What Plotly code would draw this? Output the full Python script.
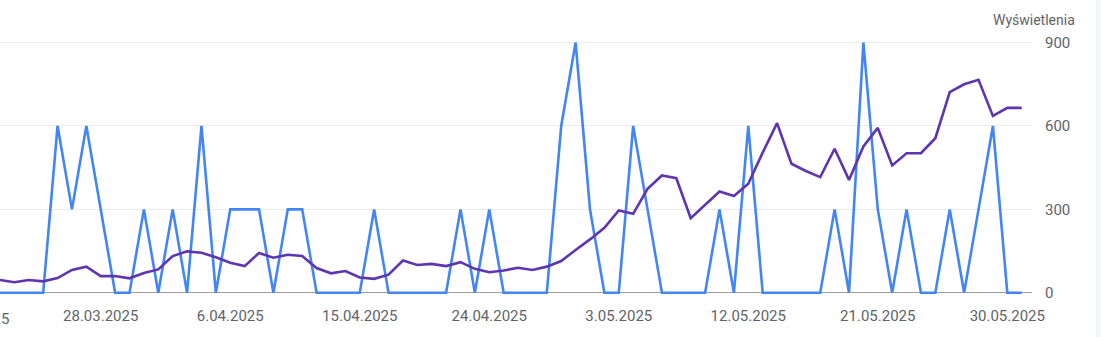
import plotly.graph_objects as go
import pandas as pd

dates = pd.date_range("2025-03-21", "2025-05-31", freq="D")

# Kliknięcia (blue line), read against the visible axis
blue_values = [0, 0, 0, 0, 600, 300, 600, 300, 0, 0,
               300, 0, 300, 0, 600, 0, 300, 300, 300, 0,
               300, 300, 0, 0, 0, 0, 300, 0, 0, 0,
               0, 0, 300, 0, 300, 0, 0, 0, 0, 600,
               900, 300, 0, 0, 600, 300, 0, 0, 0, 0,
               300, 0, 600, 0, 0, 0, 0, 0, 300, 0,
               900, 300, 0, 300, 0, 0, 300, 0, 300, 600,
               0, 0]

# Wyświetlenia (purple line)
purple_values = [46, 38, 46, 41, 53, 82, 94, 60, 60, 52,
                 71, 84, 132, 149, 144, 128, 108, 96, 143, 126,
                 137, 132, 89, 70, 78, 55, 50, 65, 116, 100,
                 104, 96, 110, 86, 74, 80, 90, 82, 94, 114,
                 154, 192, 234, 296, 284, 374, 422, 412, 268, 316,
                 364, 348, 392, 504, 610, 464, 438, 416, 518, 406,
                 526, 593, 458, 502, 502, 556, 722, 750, 766, 636,
                 665, 665]

tick_dates = ["2025-03-28", "2025-04-06", "2025-04-15", "2025-04-24",
              "2025-05-03", "2025-05-12", "2025-05-21", "2025-05-30"]
tick_labels = ["28.03.2025", "6.04.2025", "15.04.2025", "24.04.2025",
               "3.05.2025", "12.05.2025", "21.05.2025", "30.05.2025"]
cut_label = "19.03.2025"
y_ticks = [0, 300, 600, 900]
y_title = "Wyświetlenia"

FONT = "Roboto"
GRAY = "#5f6368"

fig = go.Figure()
fig.add_trace(go.Scatter(x=dates, y=blue_values, mode="lines",
                         line=dict(color="#4285f4", width=2.6), name="Kliknięcia"))
fig.add_trace(go.Scatter(x=dates, y=purple_values, mode="lines",
                         line=dict(color="#5e35b1", width=2.6), name="Wyświetlenia"))

W, H = 1101, 337
ml, mr, mt, mb = 0, 69, 37, 42
plot_w = W - ml - mr
px_per_day = 14.39
x_end = pd.Timestamp("2025-03-21") + pd.Timedelta(days=plot_w / px_per_day)

fig.update_layout(
    width=W, height=H,
    margin=dict(l=ml, r=mr, t=mt, b=mb, pad=0),
    paper_bgcolor="white", plot_bgcolor="white",
    showlegend=False,
    font=dict(family=FONT, size=15, color=GRAY),
    xaxis=dict(range=[pd.Timestamp("2025-03-21"), x_end],
               tickvals=tick_dates, ticktext=tick_labels,
               showgrid=False, zeroline=False, showline=False,
               ticks="", ticklabelstandoff=10,
               tickfont=dict(family=FONT, size=15, color=GRAY)),
    yaxis=dict(side="right", range=[-8, 920], tickvals=y_ticks,
               showgrid=True, gridcolor="#ebebeb", gridwidth=1,
               zeroline=True, zerolinecolor="#9e9e9e", zerolinewidth=1,
               showline=False, ticks="", ticklabelstandoff=12,
               tickfont=dict(family=FONT, size=15, color=GRAY)),
    annotations=[
        dict(text=y_title, xref="paper", yref="paper",
             x=(1077 - ml) / plot_w, y=1 + (37 - 20) / (H - mt - mb),
             xanchor="right", yanchor="middle", showarrow=False,
             font=dict(family=FONT, size=14, color=GRAY)),
        dict(text=cut_label, xref="paper", yref="paper",
             x=-28.8 / plot_w, y=0, yshift=-24,
             xanchor="center", yanchor="middle", showarrow=False,
             font=dict(family=FONT, size=15, color=GRAY)),
    ],
    shapes=[dict(type="rect", xref="paper", yref="paper",
                 x0=(1097 - ml) / plot_w, x1=(1110 - ml) / plot_w,
                 y0=-1, y1=2, fillcolor="#f8f9fa",
                 line=dict(color="#e8eaed", width=1), layer="below")],
)

fig.write_html("out.html")
